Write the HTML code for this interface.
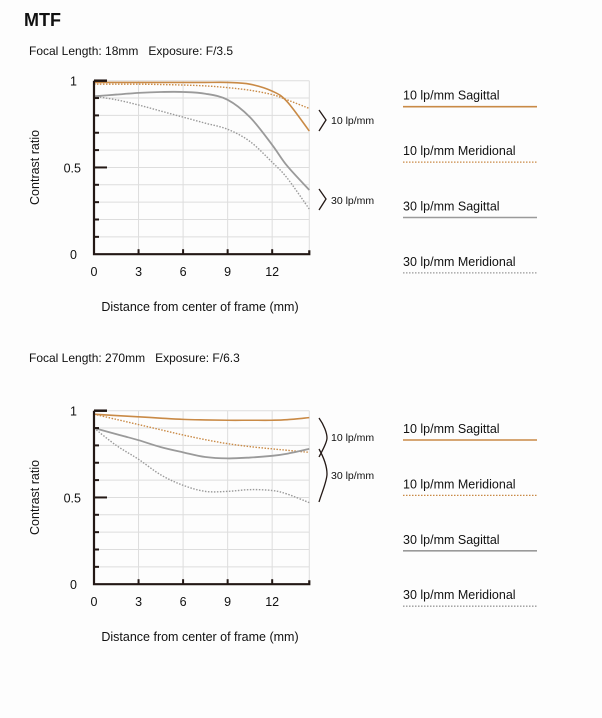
<!DOCTYPE html>
<html><head><meta charset="utf-8"><style>
html,body{margin:0;padding:0;background:#fdfdfd;}
svg{display:block;font-family:"Liberation Sans",Arial,sans-serif;}
text{white-space:pre;}
</style></head><body>
<svg id="svg" width="602" height="718" viewBox="0 0 602 718">
<text x="24" y="26" font-size="18" font-weight="bold" fill="#111">MTF</text>
</svg>
<script>
const xTicks=[0,3,6,9,12];
const yTickLabels=["0","0.5","1"];
const xSamples1=[0,1.5,3,4.5,6,7.5,9,10.5,12,13,14.5];
const c1_10S=[0.99,0.99,0.99,0.99,0.99,0.99,0.99,0.98,0.94,0.88,0.71];
const c1_10M=[0.98,0.98,0.98,0.978,0.975,0.97,0.96,0.945,0.92,0.89,0.84];
const c1_30S=[0.91,0.92,0.93,0.935,0.935,0.925,0.89,0.79,0.63,0.51,0.37];
const c1_30M=[0.91,0.89,0.86,0.825,0.79,0.755,0.72,0.65,0.53,0.44,0.26];
const xSamples2=[0,1.5,3,4.5,6,7.5,9,10.5,12,13,14.5];
const c2_10S=[0.98,0.972,0.965,0.957,0.95,0.947,0.945,0.945,0.945,0.948,0.96];
const c2_10M=[0.98,0.95,0.92,0.89,0.86,0.833,0.81,0.793,0.78,0.772,0.76];
const c2_30S=[0.90,0.865,0.83,0.79,0.76,0.733,0.725,0.73,0.74,0.752,0.78];
const c2_30M=[0.90,0.80,0.72,0.63,0.57,0.535,0.535,0.545,0.54,0.52,0.47];
const legendLabels=["10 lp/mm Sagittal","10 lp/mm Meridional","30 lp/mm Sagittal","30 lp/mm Meridional"];
const NS="http://www.w3.org/2000/svg";
const svg=document.getElementById('svg');
const ORANGE="#c98a46",GRAY="#9a9a9a";
const styles=[{c:ORANGE,d:null,w:1.6},{c:ORANGE,d:"1.5,1.5",w:1.4},{c:GRAY,d:null,w:1.8},{c:GRAY,d:"1.5,1.5",w:1.4}];
function mk(tag,attrs,parent){const e=document.createElementNS(NS,tag);for(const k in attrs)e.setAttribute(k,attrs[k]);(parent||svg).appendChild(e);return e;}
function catmull(pts){let d="M"+pts[0][0]+","+pts[0][1];for(let i=0;i<pts.length-1;i++){const p0=pts[i-1]||pts[i],p1=pts[i],p2=pts[i+1],p3=pts[i+2]||p2;
d+=" C"+(p1[0]+(p2[0]-p0[0])/6)+","+(p1[1]+(p2[1]-p0[1])/6)+" "+(p2[0]-(p3[0]-p1[0])/6)+","+(p2[1]-(p3[1]-p1[1])/6)+" "+p2[0]+","+p2[1];}return d;}
function chart(top,title,titleY,legTop,xs,series,bracket){
  const x0=94,x1=309.3,xmax=14.5,yTop=top,yBot=top+173.5;
  const X=v=>x0+(x1-x0)*v/xmax, Y=v=>yBot-(yBot-yTop)*v;
  const g=mk('g',{});
  
  
  const t=mk('text',{x:29,y:titleY,'font-size':12,fill:'#111'},g);t.textContent=title;
  
  for(let i=1;i<=10;i++){const l=mk('line',{x1:x0,x2:x1,y1:Y(i/10),y2:Y(i/10),stroke:'#ddd','stroke-width':1},g);
    }
  xTicks.concat([14.5]).forEach(v=>{if(v===0)return;const l=mk('line',{x1:X(v),x2:X(v),y1:yTop,y2:yBot,stroke:'#ddd','stroke-width':1},g);
    });
  series.forEach((s,i)=>{const p=mk('path',{d:catmull(xs.map((x,j)=>[X(x),Y(s[j])])),fill:'none',stroke:styles[i].c,'stroke-width':styles[i].w},g);
    if(styles[i].d)p.setAttribute('stroke-dasharray',styles[i].d);
    });
  const ax=mk('path',{d:`M${x0},${yTop} V${yBot} H${x1} V${yBot-4}`,fill:'none',stroke:'#231815','stroke-width':2.2},g);
  
  for(let i=1;i<10;i++){const l=mk('line',{x1:x0,x2:x0+(i===5?13:5),y1:Y(i/10),y2:Y(i/10),stroke:'#231815','stroke-width':2},g);
    }
  mk('line',{x1:x0,x2:x0+13,y1:Y(1),y2:Y(1),stroke:'#231815','stroke-width':2.5},g);
  xTicks.forEach(v=>{if(v===0)return;const l=mk('line',{x1:X(v),x2:X(v),y1:yBot,y2:yBot-5,stroke:'#231815','stroke-width':2},g);
    });
  xTicks.forEach(v=>{const tt=mk('text',{x:X(v),y:yBot+22,'font-size':12.5,'text-anchor':'middle',fill:'#111'},g);tt.textContent=v;
    });
  yTickLabels.forEach(s=>{const v=parseFloat(s);const tt=mk('text',{x:v===0.5?81:77,y:Y(v)+5,'font-size':12.5,'text-anchor':'end',fill:'#111'},g);tt.textContent=s;
    });
  const yt=mk('text',{transform:`translate(39,${(yTop+yBot)/2}) rotate(-90)`,'font-size':12.5,'text-anchor':'middle',fill:'#111'},g);yt.textContent="Contrast ratio";
  
  const xt=mk('text',{x:200,y:yBot+57,'font-size':12.5,'text-anchor':'middle',fill:'#111'},g);xt.textContent="Distance from center of frame (mm)";
  
  bracket.forEach(b=>{const p=mk('path',{d:b.d,fill:'none',stroke:'#231815','stroke-width':1.3},g);
    
    const tt=mk('text',{x:331,y:b.ty,'font-size':10.5,fill:'#111'},g);tt.textContent=b.t;
    });
  legendLabels.forEach((s,i)=>{const ly=legTop+i*55.4;
    const tt=mk('text',{x:403,y:ly-7,'font-size':12.5,fill:'#111'},g);tt.textContent=s;
    
    const l=mk('line',{x1:403,x2:537,y1:ly,y2:ly,stroke:styles[i].c,'stroke-width':styles[i].d?1.3:1.6},g);
    if(styles[i].d)l.setAttribute('stroke-dasharray','1.5,1.5');
    });
}
chart(80.7,"Focal Length: 18mm   Exposure: F/3.5",55,106.7,xSamples1,[c1_10S,c1_10M,c1_30S,c1_30M],
 [{d:"M319,110 L326,120 L319,131",t:"10 lp/mm",ty:124},{d:"M319,189 L326,199 L319,210",t:"30 lp/mm",ty:204}]);
chart(410.7,"Focal Length: 270mm   Exposure: F/6.3",362,440,xSamples2,[c2_10S,c2_10M,c2_30S,c2_30M],
 [{d:"M319,418 C324,425 327,433 327,438 C327,443 322,451 319,457",t:"10 lp/mm",ty:441},
  {d:"M319,449 C324,458 327,467 327,474 C327,481 322,492 319,502",t:"30 lp/mm",ty:479}]);
</script>
</body></html>
